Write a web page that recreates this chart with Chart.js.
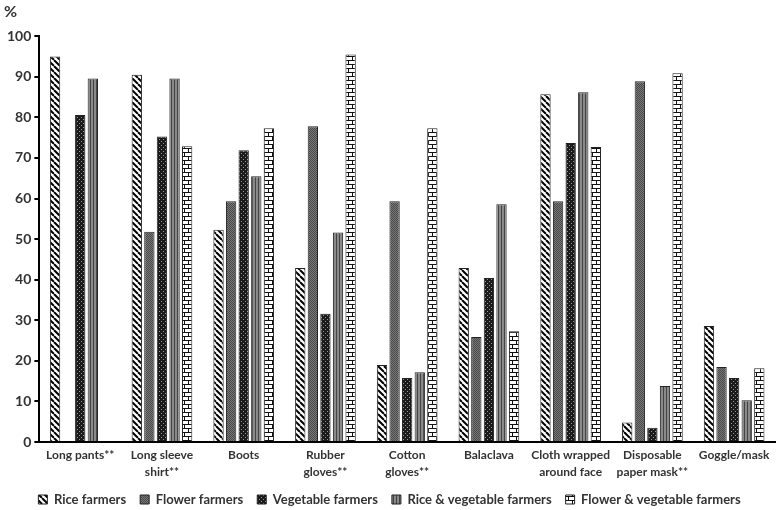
<!DOCTYPE html>
<html>
<head>
  <title>Protective equipment</title>
<script src="https://cdn.jsdelivr.net/npm/chart.js"></script>
<style>
  body { margin: 0; background: #fff; }
  #wrap { width: 777px; height: 510px; position: relative; }
</style>
</head>
<body>
<div id="wrap">
  <canvas id="myChart"></canvas>
</div>
<script>
const categories = ['Long pants**', ['Long sleeve', 'shirt**'], 'Boots', ['Rubber', 'gloves**'],
  ['Cotton', 'gloves**'], 'Balaclava', ['Cloth wrapped', 'around face'], ['Disposable', 'paper mask**'], 'Goggle/mask'];

const riceFarmers      = [95.0, 90.5, 52.3, 42.9, 19.0, 42.9, 85.7, 4.8, 28.6];
const flowerFarmers    = [0, 51.8, 59.3, 77.8, 59.3, 25.9, 59.3, 88.9, 18.5];
const vegetableFarmers = [80.6, 75.3, 71.9, 31.6, 15.8, 40.4, 73.7, 3.5, 15.8];
const riceVegFarmers   = [89.6, 89.6, 65.5, 51.6, 17.2, 58.6, 86.2, 13.8, 10.3];
const flowerVegFarmers = [0, 72.9, 77.3, 95.5, 77.3, 27.3, 72.7, 90.9, 18.2];

// little tiles for the hatch fills
function makePattern(size, draw) {
  const c = document.createElement('canvas');
  c.width = size; c.height = size;
  const g = c.getContext('2d');
  draw(g, size);
  return g.createPattern(c, 'repeat');
}

const ctx = document.getElementById('myChart').getContext('2d');

const diagPattern = makePattern(6, (g, s) => {
  g.fillStyle = '#fff'; g.fillRect(0, 0, s, s);
  g.strokeStyle = '#000'; g.lineWidth = 2;
  for (let o = -s; o <= s; o += s) {
    g.beginPath(); g.moveTo(o, 0); g.lineTo(o + s, s); g.stroke();
  }
});
const greyPattern = makePattern(2, (g) => {
  g.fillStyle = '#777'; g.fillRect(0, 0, 2, 2);
  g.fillStyle = '#4a4a4a'; g.fillRect(0, 0, 1, 1); g.fillRect(1, 1, 1, 1);
});
const dotPattern = makePattern(4, (g) => {
  g.fillStyle = '#1a1a1a'; g.fillRect(0, 0, 4, 4);
  g.fillStyle = '#9a9a9a'; g.fillRect(1, 1, 1, 1); g.fillRect(3, 3, 1, 1);
});
const vstripePattern = makePattern(3, (g) => {
  g.fillStyle = '#8a8a8a'; g.fillRect(0, 0, 3, 3);
  g.fillStyle = '#444'; g.fillRect(0, 0, 1, 3);
});
const brickPattern = makePattern(8, (g) => {
  g.fillStyle = '#fff'; g.fillRect(0, 0, 8, 8);
  g.fillStyle = '#111';
  g.fillRect(0, 0, 8, 1); g.fillRect(0, 4, 8, 1);
  g.fillRect(0, 1, 1, 3); g.fillRect(4, 5, 1, 3);
});

const data = {
  labels: categories,
  datasets: [
    { label: 'Rice farmers', data: riceFarmers, backgroundColor: diagPattern },
    { label: 'Flower farmers', data: flowerFarmers, backgroundColor: greyPattern },
    { label: 'Vegetable farmers', data: vegetableFarmers, backgroundColor: dotPattern },
    { label: 'Rice & vegetable farmers', data: riceVegFarmers, backgroundColor: vstripePattern },
    { label: 'Flower & vegetable farmers', data: flowerVegFarmers, backgroundColor: brickPattern },
  ]
};
data.datasets.forEach(d => {
  d.borderColor = '#222';
  d.borderWidth = 1;
  d.categoryPercentage = 0.77;
  d.barPercentage = 0.82;
});

const fontFam = 'Lato, "Open Sans", sans-serif';

// legend sits a bit tighter to the bottom edge than chart.js wants
const legendSqueeze = {
  id: 'legendSqueeze',
  beforeInit(chart) {
    const origFit = chart.legend.fit;
    chart.legend.fit = function() {
      origFit.bind(chart.legend)();
      this.height -= 6;
    };
  }
};

const config = {
  type: 'bar',
  data: data,
  plugins: [legendSqueeze],
  options: {
    responsive: true,
    maintainAspectRatio: false,
    animation: false,
    layout: { padding: { left: 4, right: 2, top: 0, bottom: 0 } },
    plugins: {
      title: {
        display: true,
        text: '%',
        align: 'start',
        color: '#333',
        font: { family: fontFam, size: 16, weight: 'bold' },
        padding: { top: 2, bottom: 15 }
      },
      legend: {
        position: 'bottom',
        labels: {
          boxWidth: 9,
          boxHeight: 9,
          padding: 14,
          color: '#333',
          font: { family: fontFam, size: 13, weight: 'bold' }
        }
      },
      tooltip: { enabled: false }
    },
    scales: {
      x: {
        grid: { display: false, drawTicks: false },
        border: { color: '#000', width: 2 },
        afterFit(scale) { scale.height = 37; },
        ticks: {
          color: '#333',
          maxRotation: 0,
          autoSkip: false,
          padding: 5,
          font: { family: fontFam, size: 12, weight: 'bold', lineHeight: 1.4 }
        }
      },
      y: {
        min: 0,
        max: 100,
        grid: { drawOnChartArea: false, drawTicks: true, tickLength: 5, color: '#000', lineWidth: 2 },
        border: { color: '#000', width: 2 },
        ticks: {
          stepSize: 10,
          color: '#333',
          padding: 3,
          font: { family: fontFam, size: 14, weight: 'bold' }
        }
      }
    }
  }
};

const myChart = new Chart(ctx, config);
</script>
</body>
</html>
